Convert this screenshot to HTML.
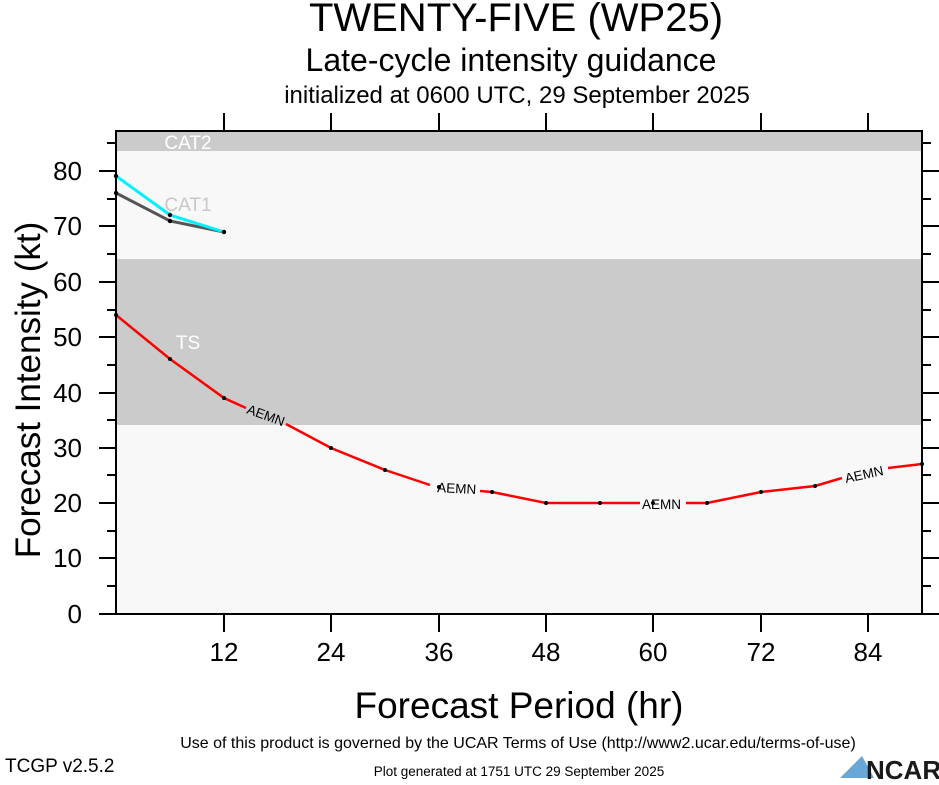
<!DOCTYPE html>
<html><head><meta charset="utf-8"><style>
body{margin:0;background:#fff;width:939px;height:780px;overflow:hidden}
svg text{font-family:"Liberation Sans",Helvetica,sans-serif}
</style></head><body>
<svg width="939" height="780" xmlns="http://www.w3.org/2000/svg">
<rect x="116" y="131" width="806" height="483" fill="#f8f8f8"/>
<rect x="116" y="131" width="806" height="20" fill="#cbcbcb"/>
<rect x="116" y="259" width="806" height="166" fill="#cbcbcb"/>
<text x="188" y="149" font-size="19" fill="#fff" text-anchor="middle">CAT2</text>
<text x="188" y="211" font-size="19" fill="#c8c8c8" text-anchor="middle">CAT1</text>
<text x="188" y="349" font-size="19" fill="#fff" text-anchor="middle">TS</text>
<g text-anchor="middle">
<text x="516" y="31" font-size="40">TWENTY-FIVE (WP25)</text>
<text x="511" y="71" font-size="32">Late-cycle intensity guidance</text>
<text x="517" y="103" font-size="24">initialized at 0600 UTC, 29 September 2025</text>
</g>
<g stroke="#000" stroke-width="2" fill="none">
<rect x="116" y="131" width="806" height="483"/>
</g>
<g stroke="#000" stroke-width="2">
<path d="M224 614v18M331 614v18M439 614v18M546 614v18M653 614v18M761 614v18M868 614v18"/>
<path d="M224 131v-18M331 131v-18M439 131v-18M546 131v-18M653 131v-18M761 131v-18M868 131v-18"/>
<path d="M116 614h-17M116 558h-17M116 503h-17M116 448h-17M116 393h-17M116 337h-17M116 282h-17M116 226h-17M116 171h-17"/>
<path d="M116 586h-9M116 531h-9M116 475h-9M116 420h-9M116 365h-9M116 310h-9M116 254h-9M116 199h-9M116 143h-9"/>
<path d="M922 614h17M922 558h17M922 503h17M922 448h17M922 393h17M922 337h17M922 282h17M922 226h17M922 171h17"/>
<path d="M922 586h9M922 531h9M922 475h9M922 420h9M922 365h9M922 310h9M922 254h9M922 199h9M922 143h9"/>
</g>
<g font-size="26" text-anchor="end">
<text x="82" y="623">0</text><text x="82" y="567">10</text><text x="82" y="512">20</text><text x="82" y="457">30</text><text x="82" y="402">40</text><text x="82" y="346">50</text><text x="82" y="291">60</text><text x="82" y="235">70</text><text x="82" y="180">80</text>
</g>
<g font-size="26" text-anchor="middle">
<text x="224" y="661">12</text><text x="331" y="661">24</text><text x="439" y="661">36</text><text x="546" y="661">48</text><text x="653" y="661">60</text><text x="761" y="661">72</text><text x="868" y="661">84</text>
</g>
<text x="519" y="718" font-size="37" text-anchor="middle">Forecast Period (hr)</text>
<text transform="translate(40,390) rotate(-90)" font-size="35" text-anchor="middle">Forecast Intensity (kt)</text>
<polyline points="116,193 170,221 224,232" fill="none" stroke="#555" stroke-width="3"/>
<polyline points="116,176 170,215 224,232" fill="none" stroke="#00f0ff" stroke-width="3"/>
<polyline points="116,315 170,359 224,398 246,408" fill="none" stroke="red" stroke-width="2.5"/>
<polyline points="286,424 331,448 385,470 430,485" fill="none" stroke="red" stroke-width="2.5"/>
<polyline points="480,491 492,492 546,503 600,503 640,503" fill="none" stroke="red" stroke-width="2.5"/>
<polyline points="686,503 707,503 761,492 815,486 842,478" fill="none" stroke="red" stroke-width="2.5"/>
<polyline points="888,468 922,464" fill="none" stroke="red" stroke-width="2.5"/>
<g font-size="13.5">
<text transform="translate(246,413) rotate(20)">AEMN</text>
<text transform="translate(437,492) rotate(3)">AEMN</text>
<text x="642" y="509">AEMN</text>
<text transform="translate(846,483) rotate(-12)">AEMN</text>
</g>
<g fill="#000">
<circle cx="116" cy="193" r="2.2"/><circle cx="170" cy="221" r="2.2"/><circle cx="224" cy="232" r="2.2"/>
<circle cx="116" cy="176" r="2.2"/><circle cx="170" cy="215" r="2.2"/>
<circle cx="116" cy="315" r="2"/><circle cx="170" cy="359" r="2"/><circle cx="224" cy="398" r="2"/><circle cx="331" cy="448" r="2"/><circle cx="385" cy="470" r="2"/><circle cx="439" cy="487" r="2"/><circle cx="492" cy="492" r="2"/><circle cx="546" cy="503" r="2"/><circle cx="600" cy="503" r="2"/><circle cx="653" cy="503" r="2"/><circle cx="707" cy="503" r="2"/><circle cx="761" cy="492" r="2"/><circle cx="815" cy="486" r="2"/><circle cx="922" cy="464" r="2"/>
</g>
<text x="518" y="748" font-size="16" text-anchor="middle">Use of this product is governed by the UCAR Terms of Use (http://www2.ucar.edu/terms-of-use)</text>
<text x="5" y="772" font-size="19">TCGP v2.5.2</text>
<text x="519" y="776" font-size="13.5" text-anchor="middle">Plot generated at 1751 UTC   29 September 2025</text>
<path d="M840 778 L862 756 L874 778 Z" fill="#6aa6d6"/>
<text x="866" y="779" font-size="26" font-weight="bold" fill="#1a1a1a">NCAR</text>
</svg>
</body></html>
